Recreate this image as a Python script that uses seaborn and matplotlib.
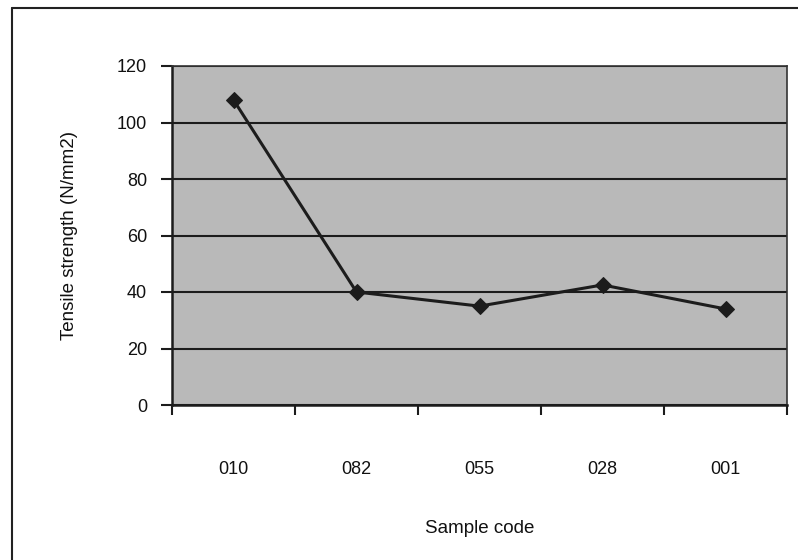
import matplotlib
matplotlib.use("Agg")
import matplotlib.pyplot as plt
from matplotlib.lines import Line2D
import numpy as np
import pandas as pd
import seaborn as sns

# Tensile strength per sample
sample_codes = ["010", "082", "055", "028", "001"]
tensile_strength = [108, 40, 35, 42.5, 34]
y_ticks = [0, 20, 40, 60, 80, 100, 120]

sns.set_theme(style="white")
plt.rcParams["font.family"] = ["Liberation Sans", "DejaVu Sans"]

W, H = 798, 560
fig = plt.figure(figsize=(W / 100, H / 100), dpi=100)
fig.patch.set_facecolor("white")

left, right, top, bottom = 172, 787, 66, 405
ax = fig.add_axes([left / W, 1 - bottom / H, (right - left) / W, (bottom - top) / H])
ax.set_facecolor("#b9b9b9")

df = pd.DataFrame({"code": sample_codes, "strength": tensile_strength})
ink = "#1c1c1c"
sns.lineplot(data=df, x="code", y="strength", sort=False, marker="D",
             markersize=8, color=ink, linewidth=2.2, markeredgecolor=ink, ax=ax)

# y axis
ax.set_ylim(0, 120)
ax.set_yticks(y_ticks)
ax.set_yticklabels([str(v) for v in y_ticks])
ax.yaxis.grid(True, color=ink, linewidth=1.5)
ax.set_axisbelow(True)
ax.tick_params(axis="y", direction="out", length=8, width=1.5, color=ink,
               pad=10, labelsize=13, labelcolor="#111111", left=True)

# x axis: ticks between categories, labels centred in each slot
n = len(sample_codes)
ax.set_xlim(-0.5, n - 0.5)
ax.set_xticks(np.arange(-0.5, n, 1.0))
ax.set_xticklabels([])
ax.set_xticks(np.arange(n), minor=True)
ax.set_xticklabels(sample_codes, minor=True)
ax.tick_params(axis="x", which="major", direction="out", length=7.5, width=1.5,
               color=ink, bottom=True)
ax.tick_params(axis="x", which="minor", length=0, pad=40, labelsize=13,
               labelcolor="#111111", bottom=True)

for side in ["left", "bottom"]:
    ax.spines[side].set_color(ink)
    ax.spines[side].set_linewidth(1.8)
for side in ["top", "right"]:
    ax.spines[side].set_color("#333333")
    ax.spines[side].set_linewidth(1.2)

ax.set_xlabel("Sample code", fontsize=13.5, color="#111111")
ax.xaxis.set_label_coords(0.5, (bottom - 520) / (bottom - top))
ax.set_ylabel("Tensile strength (N/mm2)", fontsize=13.5, color="#111111")
ax.yaxis.set_label_coords((78 - left) / (right - left), 0.5)

# chart border
fig.add_artist(Line2D([12 / W, 12 / W], [0, 1 - 8 / H], transform=fig.transFigure,
                      color="#222222", linewidth=1.5))
fig.add_artist(Line2D([12 / W, 1], [1 - 8 / H, 1 - 8 / H], transform=fig.transFigure,
                      color="#222222", linewidth=1.5))

fig.savefig("out.png", dpi=100)
